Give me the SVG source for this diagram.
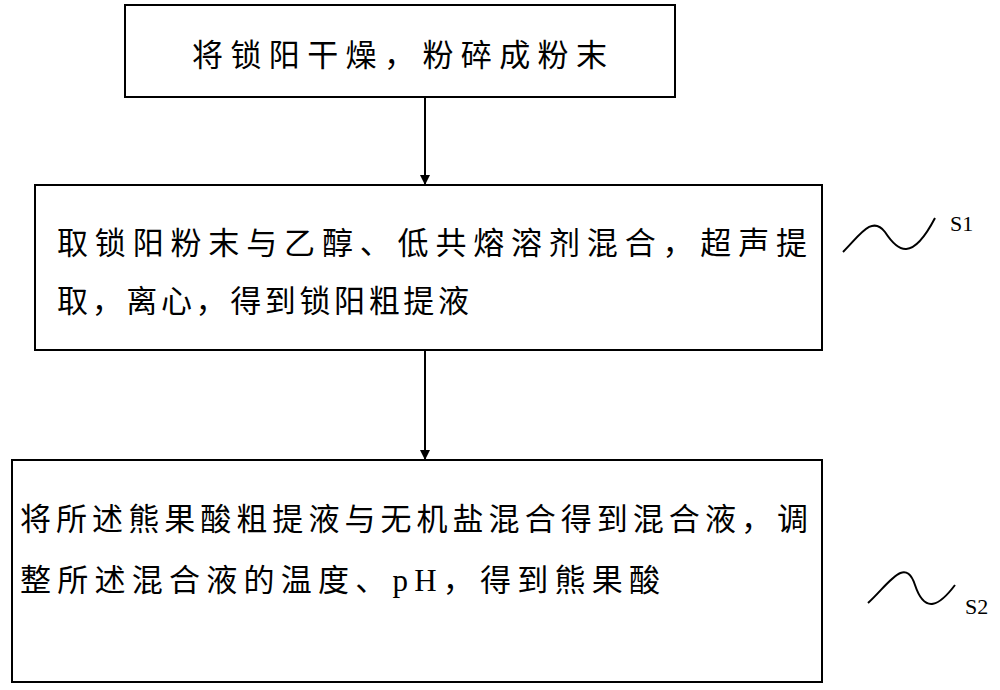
<svg xmlns="http://www.w3.org/2000/svg" width="1000" height="690" viewBox="0 0 1000 690">
<style>
.box{fill:#fff;stroke:#000;stroke-width:2}
.t{font-family:"Liberation Serif","Noto Sans CJK SC",serif;font-size:31px;fill:#000}
.l{font-family:"Liberation Serif",serif;font-size:22px;fill:#000}
.c{stroke:#000;stroke-width:2;fill:none}
</style>
<defs><marker id="a" markerWidth="10" markerHeight="10" refX="9" refY="5" orient="auto" markerUnits="userSpaceOnUse"><path d="M0,0 L10,5 L0,10 z" fill="#000"/></marker></defs>
<rect width="1000" height="690" fill="#fff"/>
<g id="n1"><rect class="box" x="125" y="5" width="550" height="92"/><text class="t" x="192" y="66" textLength="415">将锁阳干燥，粉碎成粉末</text></g>
<g id="n2"><rect class="box" x="35" y="185" width="787" height="165"/><text class="t" x="57" y="254" textLength="750">取锁阳粉末与乙醇、低共熔溶剂混合，超声提</text><text class="t" x="57" y="312" textLength="412">取，离心，得到锁阳粗提液</text></g>
<g id="n3"><rect class="box" x="12" y="460" width="810" height="222"/><text class="t" x="20" y="530" textLength="788">将所述熊果酸粗提液与无机盐混合得到混合液，调</text><text class="t" x="20" y="591" textLength="640">整所述混合液的温度、pH，得到熊果酸</text></g>
<g id="connectors">
<line class="c" x1="425" y1="97" x2="425" y2="184" marker-end="url(#a)"/>
<line class="c" x1="425" y1="350" x2="425" y2="459" marker-end="url(#a)"/>
<path class="c" d="M843,252 C860,235 872,215 885,232 C898,252 912,262 935,218"/>
<path class="c" d="M868,603 C888,585 905,555 915,585 C925,615 940,605 955,585"/>
</g>
<g id="labels"><text class="l" x="950" y="231">S1</text><text class="l" x="965" y="614">S2</text></g>
</svg>
